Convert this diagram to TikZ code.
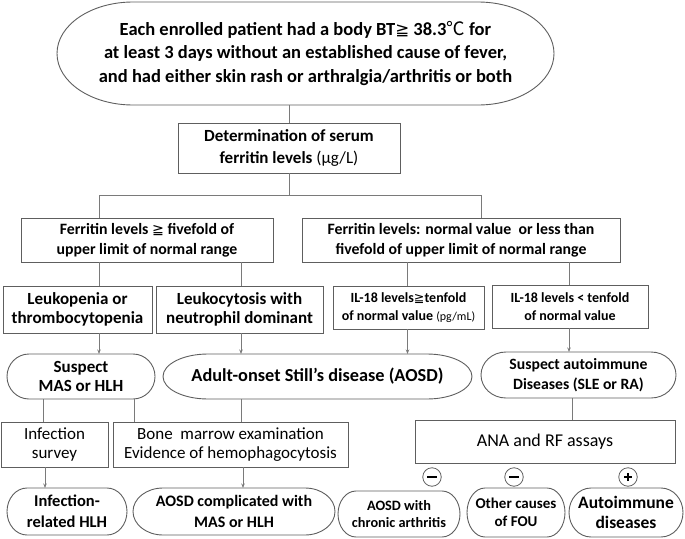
\documentclass[tikz,border=0pt]{standalone}
\usepackage{fontspec}
\setmainfont{Carlito}
\newfontfamily\cjkf{Noto Sans CJK SC}
\newfontfamily\djf{DejaVu Sans}
\usetikzlibrary{arrows.meta}
\definecolor{edge}{HTML}{5E5E5E}
\definecolor{conn}{HTML}{7A7A7A}
\newcommand\GEQ{{\djf\mdseries\scalebox{0.9}{≧}}}
\newcommand\DEGC{{\cjkf\mdseries ℃}}
\newcommand\minussign{\rule[-1pt]{10pt}{2.2pt}}
\newcommand\plussign{\makebox[0pt]{\rule[-1pt]{8pt}{2pt}}\makebox[0pt]{\rule[-4pt]{2pt}{8pt}}}
\newcommand\capsule[3]{%
  \draw[edge line] ([xshift=-#2pt]#1.north east) arc[start angle=90,end angle=-90,x radius=#2pt,y radius=#3pt]
    -- ([xshift=#2pt]#1.south west) arc[start angle=270,end angle=90,x radius=#2pt,y radius=#3pt] -- cycle;}
\begin{document}
\begin{tikzpicture}[x=1pt,y=1pt,
  edge line/.style={draw=edge,line width=0.9pt},
  bx/.style={draw=edge,line width=0.9pt,inner sep=0pt,outer sep=0pt,align=center},
  capnode/.style={inner sep=0pt,outer sep=0pt,align=center},
  con/.style={draw=conn,line width=0.9pt},
  arr/.style={con,-{Stealth[length=4.5pt,width=3.5pt]}},
  sgn/.style={circle,draw=edge,line width=0.8pt,minimum size=18.5pt,inner sep=0pt}]
\useasboundingbox (0,0) rectangle (685,-538);
% nodes
\node[capnode,minimum width=497pt,minimum height=103pt,font=\bfseries\fontsize{18.5}{23.5}\selectfont] (top) at (305.5,-53.5)
  {Each enrolled patient had a body BT\GEQ\ 38.3\DEGC\ for\\at least 3 days without an established cause of fever,\\and had either skin rash or arthralgia/arthritis or both};
\capsule{top}{76}{51.5}
\node[bx,minimum width=222pt,minimum height=50pt,font=\bfseries\fontsize{17}{22}\selectfont] (det) at (289,-148)
  {Determination of serum\\ferritin levels {\mdseries(μg/L)}};
\node[bx,minimum width=252pt,minimum height=44pt,font=\bfseries\fontsize{15.8}{20}\selectfont] (ferL) at (147,-240)
  {Ferritin levels \GEQ\ fivefold of\\upper limit of normal range};
\node[bx,minimum width=318pt,minimum height=44pt,font=\bfseries\fontsize{15.8}{20}\selectfont] (ferR) at (461,-240)
  {Ferritin levels: normal value\ \ or less than\\fivefold of upper limit of normal range};
\node[bx,minimum width=149pt,minimum height=47pt,font=\bfseries\fontsize{17}{19.5}\selectfont] (leu1) at (77.5,-309.5)
  {Leukopenia or\\thrombocytopenia};
\node[bx,minimum width=167pt,minimum height=47pt,font=\bfseries\fontsize{17}{19.5}\selectfont] (leu2) at (239.5,-309.5)
  {Leukocytosis with\\neutrophil dominant};
\node[bx,minimum width=151pt,minimum height=43pt,font=\bfseries\fontsize{14}{17.5}\selectfont] (il1) at (408.5,-307.5)
  {IL-18 levels\GEQ tenfold\\of normal value {\mdseries\fontsize{12}{17}\selectfont(pg/mL)}};
\node[bx,minimum width=156pt,minimum height=43pt,font=\bfseries\fontsize{14}{17.5}\selectfont] (il2) at (570,-306.5)
  {IL-18 levels < tenfold\\of normal value};
\node[capnode,minimum width=148pt,minimum height=45pt,font=\bfseries\fontsize{17}{19.5}\selectfont] (susA) at (81,-376.5)
  {Suspect\\MAS or HLH};
\capsule{susA}{22}{22.5}
\node[capnode,minimum width=309pt,minimum height=45pt,font=\bfseries\fontsize{18.3}{20}\selectfont] (aosd) at (317.5,-376.5)
  {Adult-onset Still’s disease (AOSD)};
\capsule{aosd}{45}{22.5}
\node[capnode,minimum width=195pt,minimum height=46pt,font=\bfseries\fontsize{15.7}{20}\selectfont] (susB) at (578.5,-375)
  {Suspect autoimmune\\Diseases (SLE or RA)};
\capsule{susB}{25}{23}
\node[bx,minimum width=107pt,minimum height=45pt,font=\fontsize{17}{19.5}\selectfont] (inf) at (54.5,-444.5)
  {Infection\\survey};
\node[bx,minimum width=235pt,minimum height=45pt,font=\fontsize{17}{19.5}\selectfont] (bone) at (230.5,-444.5)
  {Bone\ \ marrow examination\\Evidence of hemophagocytosis};
\node[bx,minimum width=260pt,minimum height=43pt,font=\fontsize{18}{19}\selectfont] (ana) at (545,-441.5)
  {ANA and RF assays};
\node[capnode,minimum width=120pt,minimum height=47pt,font=\bfseries\fontsize{16.5}{21}\selectfont] (finA) at (67,-511.5)
  {Infection-\\related HLH};
\capsule{finA}{20}{23.5}
\node[capnode,minimum width=202pt,minimum height=47pt,font=\bfseries\fontsize{16}{21}\selectfont] (finB) at (234,-511.5)
  {AOSD complicated with\\MAS or HLH};
\capsule{finB}{30}{23.5}
\node[capnode,minimum width=122pt,minimum height=46pt,font=\bfseries\fontsize{14.3}{17.5}\selectfont] (finC) at (399,-514)
  {AOSD with\\chronic arthritis};
\capsule{finC}{18}{23}
\node[capnode,minimum width=98pt,minimum height=49pt,font=\bfseries\fontsize{15}{18.5}\selectfont] (finD) at (516,-512.5)
  {Other causes\\of FOU};
\capsule{finD}{18}{24.5}
\node[capnode,minimum width=114pt,minimum height=49pt,font=\bfseries\fontsize{17.5}{20.5}\selectfont] (finE) at (626,-512.5)
  {Autoimmune\\diseases};
\capsule{finE}{22}{24.5}
\node[sgn] (s1) at (432,-477) {\minussign};
\node[sgn] (s2) at (514,-477) {\minussign};
\node[sgn] (s3) at (628,-477) {\plussign};
% connectors
\coordinate (jL) at (99,-195);
\coordinate (jR) at (481,-195);
\coordinate (xL2) at (241,-195);
\coordinate (xR1) at (407.5,-195);
\coordinate (xR2) at (569,-195);
\draw[con] (top.south -| det.north) -- (det.north);
\draw[con] (det.south) -- (det.south |- jL);
\draw[con] (jL |- ferL.north) -- (jL) -- (jR) -- (jR |- ferR.north);
\draw[con] (jL |- ferL.south) -- (jL |- leu1.north);
\draw[con] (xL2 |- ferL.south) -- (xL2 |- leu2.north);
\draw[con] (xR1 |- ferR.south) -- (xR1 |- il1.north);
\draw[con] (xR2 |- ferR.south) -- (xR2 |- il2.north);
\draw[arr] (jL |- leu1.south) -- (jL |- susA.north);
\draw[arr] (xL2 |- leu2.south) -- (xL2 |- aosd.north);
\draw[arr] (xR1 |- il1.south) -- (xR1 |- aosd.north);
\draw[arr] (xR2 |- il2.south) -- (xR2 |- susB.north);
\coordinate (xa) at (43,-400);
\coordinate (xb) at (134,-400);
\draw[con] (xa |- susA.south) -- (xa |- inf.north);
\draw[con] (xb |- susA.south) -- (xb |- bone.north);
\draw[con] (xL2 |- aosd.south) -- (xL2 |- bone.north);
\draw[con] ([xshift=-6pt]susB.south) -- ([xshift=-6pt]susB.south |- ana.north);
\coordinate (xc) at (45,-470);
\coordinate (xd) at (243,-470);
\draw[arr] (xc |- inf.south) -- (xc |- finA.north);
\draw[arr] (xd |- bone.south) -- (xd |- finB.north);
\end{tikzpicture}
\end{document}
